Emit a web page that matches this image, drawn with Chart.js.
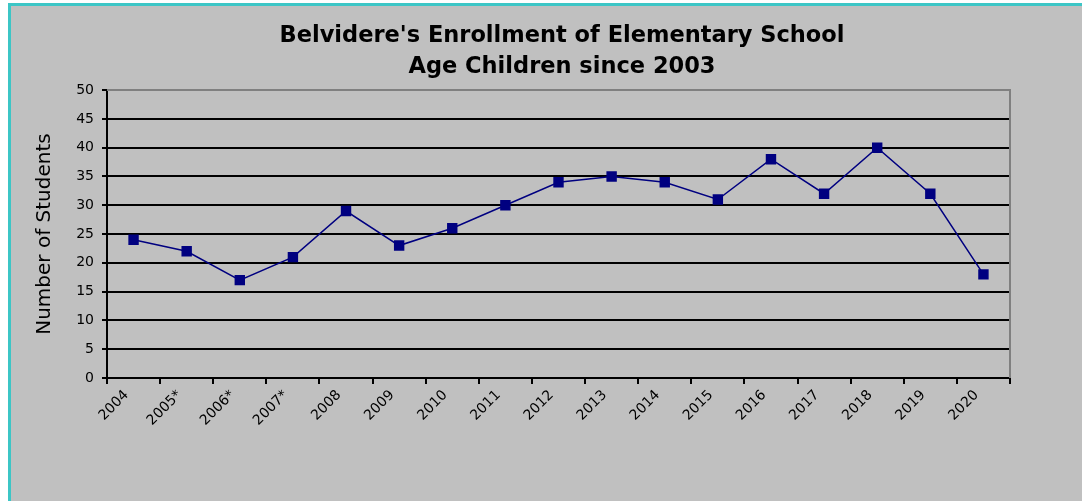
<!DOCTYPE html>
<html>
<head>
<meta charset="utf-8">
<script src="https://cdn.jsdelivr.net/npm/chart.js@4/dist/chart.umd.min.js"></script>
<style>
    body { margin: 0; background: #ffffff; width: 1082px; height: 501px; overflow: hidden; }
    #frame {
        position: absolute; left: 8px; top: 3px;
        width: 1071px; height: 495px;
        border-left: 3px solid #3cc6c6; border-top: 3px solid #3cc6c6;
        background: #c0c0c0;
    }
</style>
</head>
<body>
<div id="frame"><canvas id="enrollChart" width="1071" height="495"></canvas></div>
<script>
// data
const years = ['2004', '2005*', '2006*', '2007*', '2008', '2009', '2010', '2011', '2012',
    '2013', '2014', '2015', '2016', '2017', '2018', '2019', '2020']
const students = [24, 22, 17, 21, 29, 23, 26, 30, 34, 35, 34, 31, 38, 32, 40, 32, 18]
const titleLines = ["Belvidere's Enrollment of Elementary School", 'Age Children since 2003']
const yTitle = 'Number of Students'

// gray border on top and right of the plot area, like excel
const plotBorder = {
    id: 'plotBorder',
    afterDatasetsDraw(chart) {
        const { ctx, chartArea } = chart
        ctx.save()
        ctx.strokeStyle = '#808080'
        ctx.lineWidth = 2
        ctx.beginPath()
        ctx.moveTo(chartArea.left, chartArea.top)
        ctx.lineTo(chartArea.right, chartArea.top)
        ctx.lineTo(chartArea.right, chartArea.bottom)
        ctx.stroke()
        ctx.restore()
    }
}

const ctx = document.getElementById('enrollChart').getContext('2d')
new Chart(ctx, {
    type: 'line',
    data: {
        labels: years,
        datasets: [{
            label: 'Students',
            data: students,
            borderColor: '#000080',
            backgroundColor: '#000080',
            borderWidth: 1.5,
            pointStyle: 'rect',
            pointRadius: 6.3,
            pointHoverRadius: 6.3,
            tension: 0
        }]
    },
    options: {
        responsive: false,
        animation: false,
        layout: { padding: { left: 31, right: 0, top: 0, bottom: 0 } },
        plugins: {
            legend: { display: false },
            tooltip: { enabled: false },
            title: {
                display: true,
                text: titleLines,
                color: '#000000',
                font: { family: 'DejaVu Sans', size: 22.5, weight: 'bold', lineHeight: 1.38 },
                padding: { top: 15, bottom: 7 }
            }
        },
        scales: {
            x: {
                offset: true,
                afterFit: (scale) => { scale.height = 123 },
                grid: {
                    offset: true,
                    drawOnChartArea: false,
                    color: '#000000',
                    lineWidth: 2,
                    tickLength: 6
                },
                border: { color: '#000000', width: 2 },
                ticks: {
                    color: '#000000',
                    minRotation: 45,
                    maxRotation: 45,
                    autoSkip: false,
                    padding: 3,
                    labelOffset: -7,
                    font: { family: 'DejaVu Sans', size: 14 }
                }
            },
            y: {
                min: 0,
                max: 50,
                afterFit: (scale) => { scale.width = 65 },
                grid: {
                    color: (c) => c.tick && c.tick.value === 50 ? '#a0a0a0' : '#000000',
                    lineWidth: 2,
                    tickLength: 5,
                    tickColor: '#000000'
                },
                border: { color: '#000000', width: 2 },
                ticks: {
                    stepSize: 5,
                    color: '#000000',
                    padding: 8,
                    font: { family: 'DejaVu Sans', size: 14 }
                },
                title: {
                    display: true,
                    text: yTitle,
                    color: '#000000',
                    font: { family: 'DejaVu Sans', size: 20 },
                    padding: { top: -9, bottom: 0 }
                }
            },
            // empty axis on the right, only keeps room so the title centres like the original
            yRight: {
                position: 'right',
                afterFit: (scale) => { scale.width = 72 },
                grid: { drawOnChartArea: false, drawTicks: false },
                border: { display: false },
                ticks: { display: false }
            }
        }
    },
    plugins: [plotBorder]
})
</script>
</body>
</html>
